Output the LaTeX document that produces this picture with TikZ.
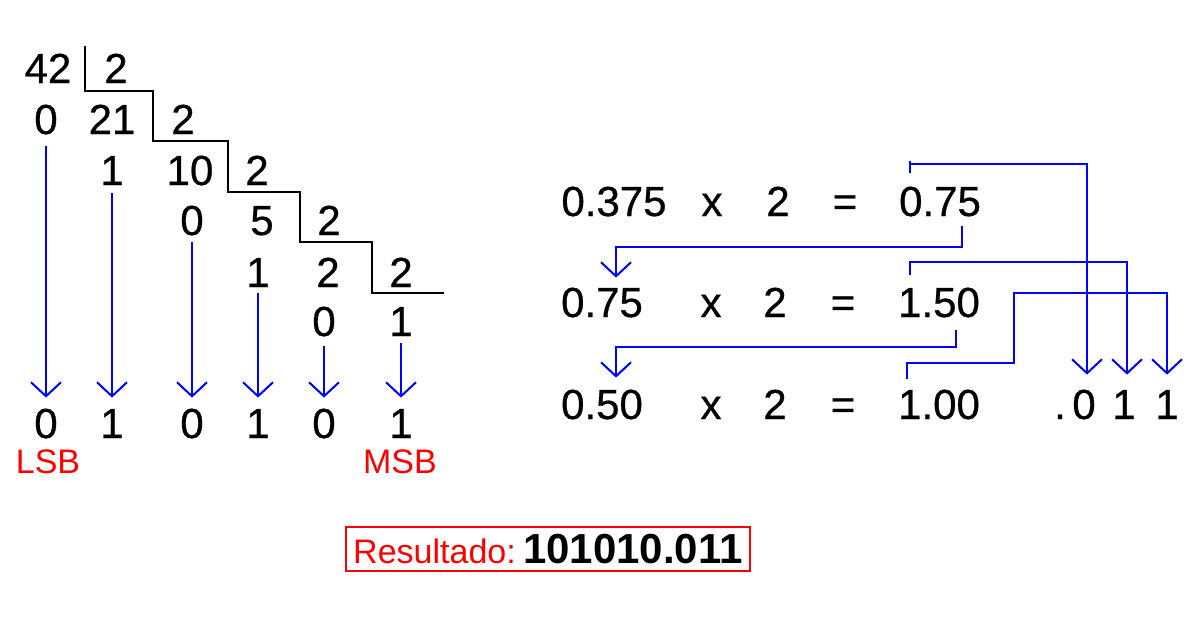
\documentclass[tikz,border=0pt]{standalone}
\usepackage{fontspec}
\setmainfont{Liberation Sans}
\newfontfamily\digitfont[FakeBold=0.6]{Liberation Sans}
\usetikzlibrary{arrows.meta, positioning}

\begin{document}
\begin{tikzpicture}[x=0.5pt,y=-0.5pt,
    num/.style={inner sep=0pt,text height=15pt,text depth=0pt,font=\digitfont\fontsize{21}{21}\selectfont},
    tag/.style={inner sep=0pt,text=red,font=\fontsize{17}{17}\selectfont},
    stair/.style={black,line width=1pt},
    bline/.style={blue,line width=1pt},
    barrow/.style={bline,-{Straight Barb[length=7pt,width=15pt]}}]
    \useasboundingbox[fill=white] (0,0) rectangle (1186,638);

    % division 42 / 2
    \node[num] (n42) at (48,68) {42};
    \node[num] (d1) at (116,68) {2};
    \node[num] (r1) at (46,119) {0};
    \node[num] (q1) at (112,119) {21};
    \node[num] (d2) at (183,119) {2};
    \node[num] (r2) at (112,170) {1};
    \node[num] (q2) at (190,170) {10};
    \node[num] (d3) at (257,170) {2};
    \node[num] (r3) at (192,220) {0};
    \node[num] (q3) at (262,220) {5};
    \node[num] (d4) at (329,220) {2};
    \node[num] (r4) at (258,272) {1};
    \node[num] (q4) at (328,272) {2};
    \node[num] (d5) at (401,272) {2};
    \node[num] (r5) at (324,321) {0};
    \node[num] (q5) at (401,321) {1};
    \draw[stair] (85,46) -- (85,91) -- (153,91) -- (153,141) -- (228,141) -- (228,192)
        -- (300,192) -- (300,242) -- (372,242) -- (372,293) -- (444,293);

    % bits read from the remainders
    \node[num] (b1) at (46,423) {0};
    \node[num] (b2) at (112,423) {1};
    \node[num] (b3) at (192,423) {0};
    \node[num] (b4) at (258,423) {1};
    \node[num] (b5) at (324,423) {0};
    \node[num] (b6) at (401,423) {1};
    \node[tag] (lsb) at (48,462) {LSB};
    \node[tag] (msb) at (400,462) {MSB};
    \draw[barrow,shorten <=6pt,shorten >=5pt] (r1) -- (b1);
    \draw[barrow,shorten <=4pt,shorten >=5pt] (r2) -- (b2);
    \draw[barrow,shorten <=3.5pt,shorten >=5pt] (r3) -- (b3);
    \draw[barrow,shorten <=3pt,shorten >=5pt] (r4) -- (b4);
    \draw[barrow,shorten <=5pt,shorten >=5pt] (r5) -- (b5);
    \draw[barrow,shorten <=3.5pt,shorten >=5pt] (q5) -- (b6);

    % fraction 0.375 * 2
    \node[num] (p1) at (614,201) {0.375};
    \node[num] (p2) at (712,201) {x};
    \node[num] (p3) at (778,201) {2};
    \node[num] (p4) at (845,201) {=};
    \node[num] (p5) at (940,201) {0.75};
    \node[num] (s1) at (602,302) {0.75};
    \node[num] (s2) at (711,302) {x};
    \node[num] (s3) at (775,302) {2};
    \node[num] (s4) at (843,302) {=};
    \node[num] (s5) at (939,302) {1.50};
    \node[num] (u1) at (602,404) {0.50};
    \node[num] (u2) at (711,404) {x};
    \node[num] (u3) at (775,404) {2};
    \node[num] (u4) at (843,404) {=};
    \node[num] (u5) at (939,404) {1.00};
    \node[num] (f0) at (1060,404) {.};
    \node[num] (f1) at (1084,404) {0};
    \node[num] (f2) at (1124,404) {1};
    \node[num] (f3) at (1167,404) {1};

    \coordinate (t1) at (910,173);
    \coordinate (k1) at (1087,164);
    \coordinate (t2) at (962,226);
    \coordinate (k2) at (616,247);
    \coordinate (t3) at (910,275);
    \coordinate (k3) at (1127,262);
    \coordinate (t4) at (956,330);
    \coordinate (k4) at (616,347);
    \coordinate (t5) at (907,379);
    \coordinate (k5) at (1014,363);
    \coordinate (k6) at (1167,293);
    \draw[bline] (t1) -- ++(0,-12);
    \draw[barrow,shorten >=7pt] (t1) |- (k1) -- (k1 |- f1.north);
    \draw[barrow,shorten >=4.5pt] (t2) |- (k2) -- (k2 |- s1.north);
    \draw[barrow,shorten >=7pt] (t3) |- (k3) -- (k3 |- f2.north);
    \draw[barrow,shorten >=5.5pt] (t4) |- (k4) -- (k4 |- u1.north);
    \draw[barrow,shorten >=7pt] (t5) |- (k5) |- (k6) -- (k6 |- f3.north);

    % result
    \node[draw=red,line width=1pt,minimum width=202pt,minimum height=22pt,inner sep=2pt] (res) at (548,549)
        {{\color{red}\fontsize{17}{17}\selectfont Resultado:} {\fontsize{21}{21}\selectfont\bfseries 101010.011}};
\end{tikzpicture}
\end{document}
